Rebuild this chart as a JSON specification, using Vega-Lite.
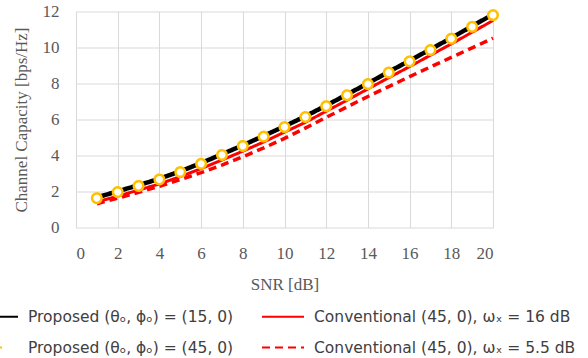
{
  "$schema": "https://vega.github.io/schema/vega-lite/v6.json",
  "width": 417,
  "height": 216,
  "autosize": {"type": "none"},
  "padding": {"left": 76, "top": 11.5, "right": 95, "bottom": 130.5},
  "background": "white",
  "datasets": {
    "capacity": [
      {"snr": 1, "series": "P15", "cap": 1.67},
      {"snr": 2, "series": "P15", "cap": 2.01},
      {"snr": 3, "series": "P15", "cap": 2.35},
      {"snr": 4, "series": "P15", "cap": 2.71},
      {"snr": 5, "series": "P15", "cap": 3.12},
      {"snr": 6, "series": "P15", "cap": 3.58},
      {"snr": 7, "series": "P15", "cap": 4.07},
      {"snr": 8, "series": "P15", "cap": 4.57},
      {"snr": 9, "series": "P15", "cap": 5.09},
      {"snr": 10, "series": "P15", "cap": 5.62},
      {"snr": 11, "series": "P15", "cap": 6.18},
      {"snr": 12, "series": "P15", "cap": 6.78},
      {"snr": 13, "series": "P15", "cap": 7.39},
      {"snr": 14, "series": "P15", "cap": 8.01},
      {"snr": 15, "series": "P15", "cap": 8.65},
      {"snr": 16, "series": "P15", "cap": 9.27},
      {"snr": 17, "series": "P15", "cap": 9.90},
      {"snr": 18, "series": "P15", "cap": 10.53},
      {"snr": 19, "series": "P15", "cap": 11.19},
      {"snr": 20, "series": "P15", "cap": 11.84},

      {"snr": 1, "series": "P45", "cap": 1.63},
      {"snr": 2, "series": "P45", "cap": 1.97},
      {"snr": 3, "series": "P45", "cap": 2.31},
      {"snr": 4, "series": "P45", "cap": 2.67},
      {"snr": 5, "series": "P45", "cap": 3.08},
      {"snr": 6, "series": "P45", "cap": 3.54},
      {"snr": 7, "series": "P45", "cap": 4.03},
      {"snr": 8, "series": "P45", "cap": 4.53},
      {"snr": 9, "series": "P45", "cap": 5.05},
      {"snr": 10, "series": "P45", "cap": 5.58},
      {"snr": 11, "series": "P45", "cap": 6.14},
      {"snr": 12, "series": "P45", "cap": 6.74},
      {"snr": 13, "series": "P45", "cap": 7.35},
      {"snr": 14, "series": "P45", "cap": 7.97},
      {"snr": 15, "series": "P45", "cap": 8.61},
      {"snr": 16, "series": "P45", "cap": 9.23},
      {"snr": 17, "series": "P45", "cap": 9.86},
      {"snr": 18, "series": "P45", "cap": 10.49},
      {"snr": 19, "series": "P45", "cap": 11.15},
      {"snr": 20, "series": "P45", "cap": 11.80},

      {"snr": 1, "series": "C16", "cap": 1.42},
      {"snr": 2, "series": "C16", "cap": 1.74},
      {"snr": 3, "series": "C16", "cap": 2.08},
      {"snr": 4, "series": "C16", "cap": 2.42},
      {"snr": 5, "series": "C16", "cap": 2.83},
      {"snr": 6, "series": "C16", "cap": 3.27},
      {"snr": 7, "series": "C16", "cap": 3.75},
      {"snr": 8, "series": "C16", "cap": 4.24},
      {"snr": 9, "series": "C16", "cap": 4.75},
      {"snr": 10, "series": "C16", "cap": 5.30},
      {"snr": 11, "series": "C16", "cap": 5.84},
      {"snr": 12, "series": "C16", "cap": 6.46},
      {"snr": 13, "series": "C16", "cap": 7.07},
      {"snr": 14, "series": "C16", "cap": 7.70},
      {"snr": 15, "series": "C16", "cap": 8.32},
      {"snr": 16, "series": "C16", "cap": 8.94},
      {"snr": 17, "series": "C16", "cap": 9.57},
      {"snr": 18, "series": "C16", "cap": 10.20},
      {"snr": 19, "series": "C16", "cap": 10.85},
      {"snr": 20, "series": "C16", "cap": 11.50},

      {"snr": 1, "series": "C55", "cap": 1.32},
      {"snr": 2, "series": "C55", "cap": 1.63},
      {"snr": 3, "series": "C55", "cap": 1.95},
      {"snr": 4, "series": "C55", "cap": 2.29},
      {"snr": 5, "series": "C55", "cap": 2.66},
      {"snr": 6, "series": "C55", "cap": 3.05},
      {"snr": 7, "series": "C55", "cap": 3.47},
      {"snr": 8, "series": "C55", "cap": 3.93},
      {"snr": 9, "series": "C55", "cap": 4.42},
      {"snr": 10, "series": "C55", "cap": 4.95},
      {"snr": 11, "series": "C55", "cap": 5.52},
      {"snr": 12, "series": "C55", "cap": 6.12},
      {"snr": 13, "series": "C55", "cap": 6.70},
      {"snr": 14, "series": "C55", "cap": 7.28},
      {"snr": 15, "series": "C55", "cap": 7.83},
      {"snr": 16, "series": "C55", "cap": 8.38},
      {"snr": 17, "series": "C55", "cap": 8.92},
      {"snr": 18, "series": "C55", "cap": 9.45},
      {"snr": 19, "series": "C55", "cap": 9.98},
      {"snr": 20, "series": "C55", "cap": 10.52}
    ]
  },
  "data": {"name": "capacity"},
  "encoding": {
    "x": {
      "field": "snr",
      "type": "quantitative",
      "title": "SNR [dB]",
      "scale": {"domain": [0, 20], "nice": false},
      "axis": {"values": [0, 2, 4, 6, 8, 10, 12, 14, 16, 18, 20], "labelPadding": 18, "titlePadding": 15}
    },
    "y": {
      "field": "cap",
      "type": "quantitative",
      "title": "Channel Capacity [bps/Hz]",
      "scale": {"domain": [0, 12], "nice": false},
      "axis": {"values": [0, 2, 4, 6, 8, 10, 12], "labelPadding": 17, "titlePadding": 12}
    },
    "color": {
      "field": "series",
      "type": "nominal",
      "scale": {
        "domain": ["P15", "P45", "C16", "C55"],
        "range": ["#000000", "#ffc000", "#ff0000", "#ff0000"]
      },
      "legend": {
        "title": null,
        "orient": "none",
        "legendX": -101,
        "legendY": 283,
        "columns": 2,
        "gridAlign": "each",
        "columnPadding": 24,
        "rowPadding": -19,
        "symbolType": "stroke",
        "symbolSize": 1764,
        "symbolStrokeWidth": 2,
        "symbolOffset": 0,
        "labelOffset": 9,
        "labelFont": "DejaVu Sans",
        "labelFontSize": 15.5,
        "labelColor": "#404040",
        "labelLimit": 400,
        "labelExpr": "datum.value === 'P15' ? 'Proposed (θₒ, ϕₒ) = (15, 0)' : datum.value === 'P45' ? 'Proposed (θₒ, ϕₒ) = (45, 0)' : datum.value === 'C16' ? 'Conventional (45, 0), ωₓ = 16 dB' : 'Conventional (45, 0), ωₓ = 5.5 dB'"
      }
    },
    "strokeDash": {
      "field": "series",
      "type": "nominal",
      "scale": {
        "domain": ["P15", "P45", "C16", "C55"],
        "range": [[1, 0], [0, 23, 3, 100], [1, 0], [8, 5]]
      },
      "legend": {
        "title": null,
        "orient": "none",
        "legendX": -101,
        "legendY": 283,
        "columns": 2,
        "gridAlign": "each",
        "columnPadding": 24,
        "rowPadding": -19,
        "symbolType": "stroke",
        "symbolSize": 1764,
        "symbolStrokeWidth": 2,
        "symbolOffset": 0,
        "labelOffset": 9,
        "labelFont": "DejaVu Sans",
        "labelFontSize": 15.5,
        "labelColor": "#404040",
        "labelLimit": 400,
        "labelExpr": "datum.value === 'P15' ? 'Proposed (θₒ, ϕₒ) = (15, 0)' : datum.value === 'P45' ? 'Proposed (θₒ, ϕₒ) = (45, 0)' : datum.value === 'C16' ? 'Conventional (45, 0), ωₓ = 16 dB' : 'Conventional (45, 0), ωₓ = 5.5 dB'"
      }
    }
  },
  "layer": [
    {
      "transform": [{"filter": "datum.series === 'C55'"}],
      "mark": {"type": "line", "strokeWidth": 3.5}
    },
    {
      "transform": [{"filter": "datum.series === 'C16'"}],
      "mark": {"type": "line", "strokeWidth": 3}
    },
    {
      "transform": [{"filter": "datum.series === 'P15'"}],
      "mark": {"type": "line", "strokeWidth": 4.5}
    },
    {
      "transform": [{"filter": "datum.series === 'P45'"}],
      "mark": {"type": "point", "shape": "circle", "filled": true, "stroke": "#ffc000", "size": 90, "strokeWidth": 2.5, "opacity": 1},
      "encoding": {"color": {"value": "#ffffff"}, "strokeDash": {"value": [1, 0]}}
    }
  ],
  "config": {
    "view": {"stroke": null},
    "axis": {
      "domain": false,
      "ticks": false,
      "grid": true,
      "gridColor": "#d9d9d9",
      "gridWidth": 1,
      "labelFont": "Liberation Serif",
      "labelFontSize": 17,
      "labelColor": "#595959",
      "titleFont": "Liberation Serif",
      "titleFontSize": 17,
      "titleFontWeight": "normal",
      "titleColor": "#595959"
    }
  }
}
